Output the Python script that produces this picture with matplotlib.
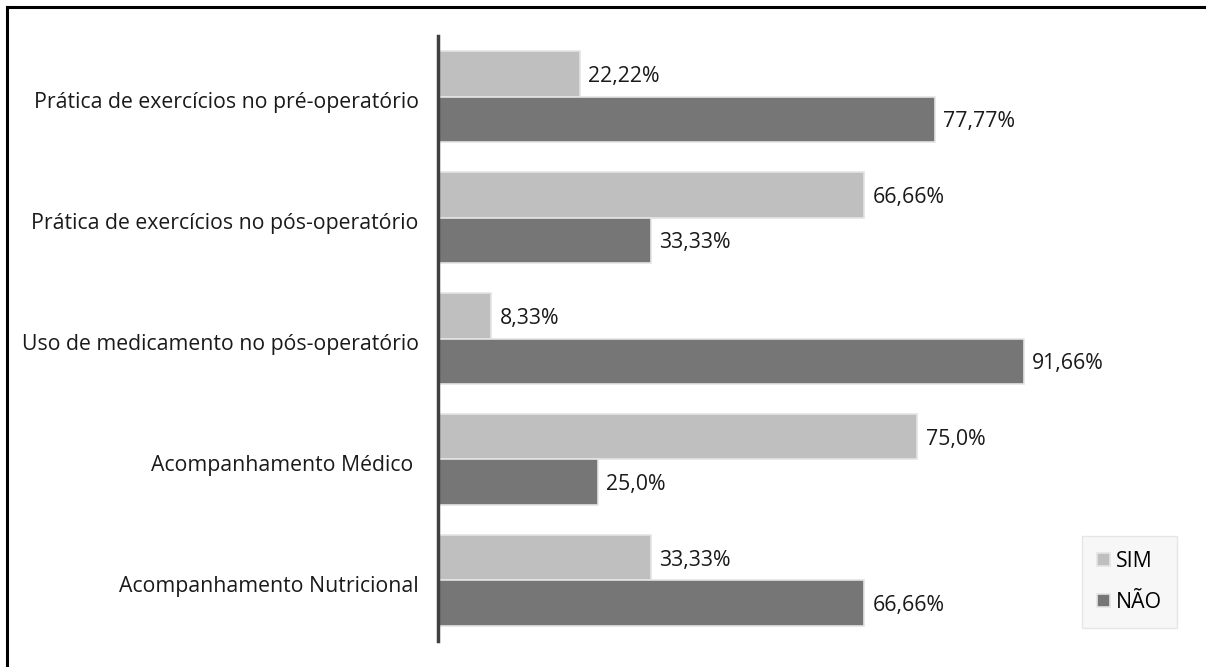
import numpy as np
import matplotlib.pyplot as plt
from matplotlib.transforms import ScaledTranslation

plt.rcParams['font.family'] = ['Open Sans', 'DejaVu Sans']

categorias = ['Prática de exercícios no pré-operatório',
              'Prática de exercícios no pós-operatório',
              'Uso de medicamento no pós-operatório',
              'Acompanhamento Médico ',
              'Acompanhamento Nutricional']
sim = [22.22, 66.66, 8.33, 75.0, 33.33]
nao = [77.77, 33.33, 91.66, 25.0, 66.66]
sim_txt = ['22,22%', '66,66%', '8,33%', '75,0%', '33,33%']
nao_txt = ['77,77%', '33,33%', '91,66%', '25,0%', '66,66%']

fig = plt.figure(figsize=(12.06, 6.67), dpi=100)
ax = fig.add_axes([0.3632, 0.039, 0.53, 0.907])

y = np.arange(len(categorias))
h = 0.375
b1 = ax.barh(y - h / 2, sim, h, color='#bfbfbf', edgecolor='#e4e4e4', linewidth=1.2, label='SIM')
b2 = ax.barh(y + h / 2, nao, h, color='#767676', edgecolor='#e4e4e4', linewidth=1.2, label='NÃO')

for bars, txt in ((b1, sim_txt), (b2, nao_txt)):
    for r, t in zip(bars, txt):
        ax.annotate(t, (r.get_width(), r.get_y() + r.get_height() / 2),
                    xytext=(6, -2), textcoords='offset points',
                    va='center', ha='left', fontsize=15.3, color='#1a1a1a')

ax.set_xlim(0, 100)
ax.set_ylim(len(categorias) - 0.5, -0.5)
ax.set_yticks(y)
ax.set_yticklabels(categorias, fontsize=15.3, color='#1a1a1a', va='center')
ax.tick_params(axis='y', length=0, pad=14)
# rótulos das categorias um pouco abaixo do centro do grupo
desloc = ScaledTranslation(0, -4 / 72, fig.dpi_scale_trans)
for lbl in ax.get_yticklabels():
    lbl.set_transform(lbl.get_transform() + desloc)
ax.set_xticks([])
for s in ('top', 'right', 'bottom'):
    ax.spines[s].set_visible(False)
ax.spines['left'].set_color('#404040')
ax.spines['left'].set_linewidth(2.5)

leg = ax.legend(loc='lower right', bbox_to_anchor=(1.1565, 0.0215), fontsize=15.3,
                handlelength=0.6, handleheight=0.6, handletextpad=0.3,
                labelspacing=0.95, borderpad=0.7, borderaxespad=0, fancybox=False,
                frameon=True, framealpha=1)
leg.get_frame().set_facecolor('#f7f7f7')
leg.get_frame().set_edgecolor('#e6e6e6')

# moldura superior e esquerda
fig.add_artist(plt.Line2D([0.0055, 1.0], [0.9895, 0.9895], color='black', lw=2.2))
fig.add_artist(plt.Line2D([0.0055, 0.0055], [0.0, 0.9895], color='black', lw=2.2))

fig.savefig('out.png', dpi=100)
